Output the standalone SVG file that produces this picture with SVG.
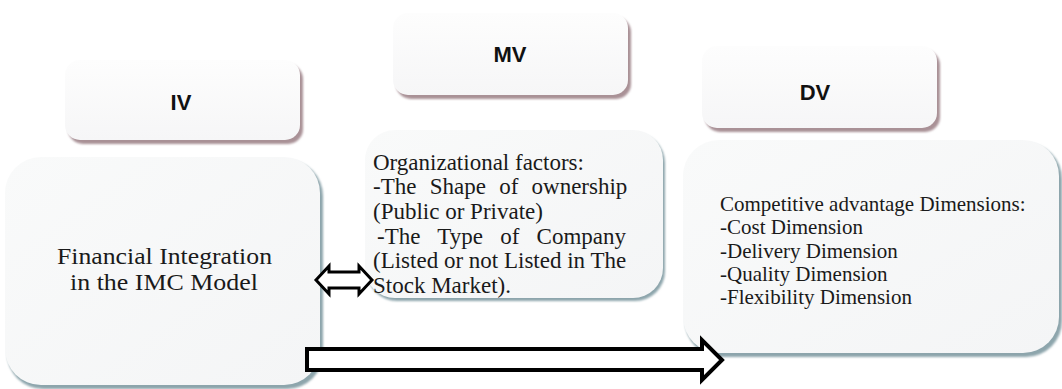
<svg xmlns="http://www.w3.org/2000/svg" width="1062" height="389" viewBox="0 0 1062 389">
  <style>
    .hdr { fill: url(#hdrFill); }
    .hdrShadow { fill: #a99196; filter: url(#soft); }
    .box { fill: url(#boxFill); }
    .boxShadow { fill: #8da5ac; filter: url(#soft); }
    .lbl { font-family: "Liberation Sans", Arial, sans-serif; font-weight: bold; font-size: 22px; fill: #111; text-anchor: middle; }
    .body { font-family: "Liberation Serif", "Times New Roman", serif; fill: #1a1a1a; }
    .arrow { fill: #ffffff; stroke: #000000; stroke-linejoin: miter; }
  </style>
  <defs>
    <linearGradient id="hdrFill" x1="0" y1="0" x2="0" y2="1">
      <stop offset="0" stop-color="#fdfdfd"/>
      <stop offset="1" stop-color="#f6f6f7"/>
    </linearGradient>
    <linearGradient id="boxFill" x1="0" y1="0" x2="1" y2="1">
      <stop offset="0" stop-color="#f9fafa"/>
      <stop offset="1" stop-color="#f4f5f6"/>
    </linearGradient>
    <filter id="soft" x="-5%" y="-5%" width="110%" height="115%">
      <feGaussianBlur stdDeviation="0.8"/>
    </filter>
  </defs>

  <rect width="1062" height="389" fill="#ffffff"/>

  <!-- header labels -->
  <g id="iv-header">
    <rect class="hdrShadow" x="68" y="64" width="235" height="80" rx="15"/>
    <rect class="hdr" x="65" y="60" width="235" height="80" rx="15"/>
    <text class="lbl" x="181" y="110">IV</text>
  </g>
  <g id="mv-header">
    <rect class="hdrShadow" x="396" y="17" width="235" height="82" rx="15"/>
    <rect class="hdr" x="393" y="13" width="235" height="82" rx="15"/>
    <text class="lbl" x="510" y="62">MV</text>
  </g>
  <g id="dv-header">
    <rect class="hdrShadow" x="705" y="50" width="235" height="82" rx="15"/>
    <rect class="hdr" x="702" y="46" width="235" height="82" rx="15"/>
    <text class="lbl" x="815" y="100">DV</text>
  </g>

  <!-- content boxes -->
  <g id="iv-box">
    <rect class="boxShadow" x="7" y="160" width="316" height="229" rx="36"/>
    <rect class="box" x="5" y="157" width="315" height="228" rx="36"/>
    <text class="body" font-size="23" x="57" y="264" textLength="215" lengthAdjust="spacingAndGlyphs">Financial Integration</text>
    <text class="body" font-size="23" x="70" y="290" textLength="188" lengthAdjust="spacingAndGlyphs">in the IMC Model</text>
  </g>
  <g id="mv-box">
    <rect class="boxShadow" x="367" y="133" width="298" height="168" rx="30"/>
    <rect class="box" x="365" y="130" width="298" height="168" rx="30"/>
    <g class="body" font-size="23">
      <text x="373" y="170">Organizational factors:</text>
      <text x="373" y="194" word-spacing="7.5">-The Shape of ownership</text>
      <text x="373" y="219">(Public or Private)</text>
      <text x="377" y="244" word-spacing="11.5">-The Type of Company</text>
      <text x="373" y="268">(Listed or not Listed in The</text>
      <text x="373" y="293">Stock Market).</text>
    </g>
  </g>
  <g id="dv-box">
    <rect class="boxShadow" x="685" y="143" width="377" height="214" rx="36"/>
    <rect class="box" x="683" y="140" width="376" height="213" rx="36"/>
    <g class="body" font-size="21">
      <text x="720" y="211">Competitive advantage Dimensions:</text>
      <text x="720" y="234">-Cost Dimension</text>
      <text x="720" y="258">-Delivery Dimension</text>
      <text x="720" y="281">-Quality Dimension</text>
      <text x="720" y="304">-Flexibility Dimension</text>
    </g>
  </g>

  <!-- connectors -->
  <g id="connectors">
    <path class="arrow" stroke-width="3" d="M316,280 L329,266 L329,272 L359,272 L359,266 L372,280 L359,294 L359,288 L329,288 L329,294 Z"/>
    <path class="arrow" stroke-width="4" d="M307,349 L702,349 L702,340 L722,360 L702,380 L702,370 L307,370 Z"/>
  </g>
</svg>
